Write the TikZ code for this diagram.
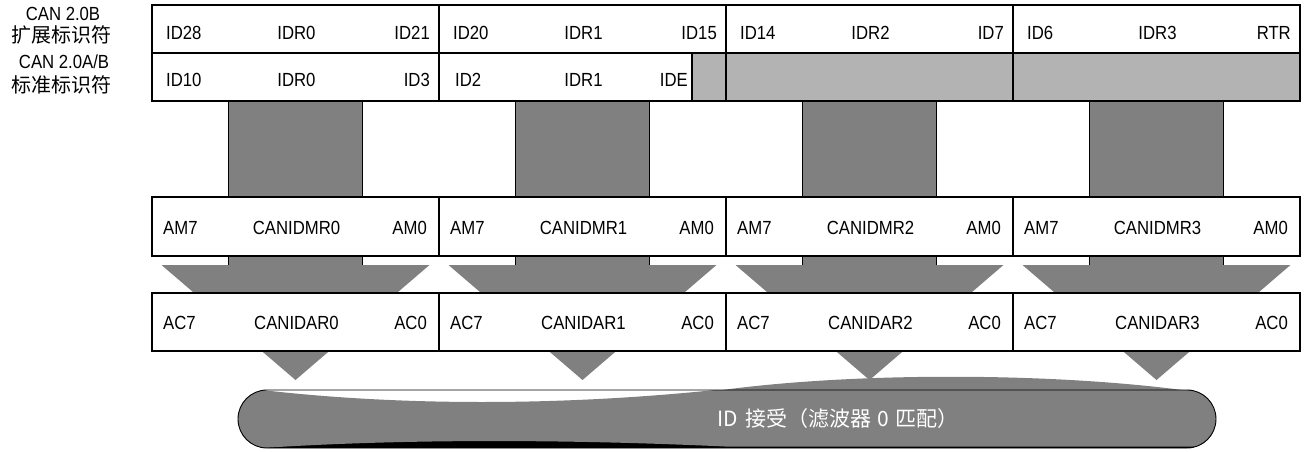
\documentclass[tikz,border=0pt]{standalone}
\usepackage{fontspec}
\setmainfont[FakeStretch=0.88]{Liberation Sans}
\newfontfamily\cjk{Noto Sans CJK SC}
\definecolor{darkg}{RGB}{128,128,128}
\definecolor{lightg}{RGB}{179,179,179}
\begin{document}
\begin{tikzpicture}[x=1pt,y=-1pt,
  lbl/.style={font=\fontsize{19}{20}\selectfont, inner sep=0pt},
  cjklbl/.style={font=\cjk\fontsize{20}{21}\selectfont, inner sep=0pt},
  cell/.style={draw, line width=1.9pt, fill=white, inner sep=0pt, minimum width=287pt},
  stemline/.style={line width=1.3pt},
  arrowfill/.style={fill=darkg}]
\useasboundingbox (0,0) rectangle (1307,452);

% ---- down arrows (drawn first, behind the register rows)
\foreach \i in {0,1,2,3} {
  \pgfmathsetmacro\cx{295.5+287*\i}
  \fill[arrowfill] (\cx-67,101) -- (\cx+67,101) -- (\cx+67,265) -- (\cx+134,265)
     -- (\cx,380) -- (\cx-134,265) -- (\cx-67,265) -- cycle;
  \draw[stemline] (\cx-67,101) -- (\cx-67,265) (\cx+67,101) -- (\cx+67,265);
}

% ---- top table: identifier registers
\foreach \i/\l/\c/\r in {0/ID28/IDR0/ID21, 1/ID20/IDR1/ID15, 2/ID14/IDR2/ID7, 3/ID6/IDR3/RTR} {
  \pgfmathsetmacro\cx{295.5+287*\i}
  \pgfmathsetmacro\xa{152+287*\i}
  \node[cell, minimum height=48pt] (ext\i) at (\cx,29) {};
  \node[lbl, anchor=west] (extL\i) at (\xa+14,33) {\l};
  \node[lbl] (extC\i) at (\cx+1,33) {\c};
  \node[lbl, anchor=east] (extR\i) at (\xa+278,33) {\r};
}
% row 2 (standard identifier)
\node[cell, minimum height=48pt] (std0) at (295.5,77) {};
\node[lbl, anchor=west] (stdL0) at (166,80) {ID10};
\node[lbl] (stdC0) at (296.5,80) {IDR0};
\node[lbl, anchor=east] (stdR0) at (430,80) {ID3};
\node[cell, minimum height=48pt] (std1) at (582.5,77) {};
\node[cell, fill=lightg, minimum width=36pt, minimum height=48pt] (std1g) at (710,77) {};
\node[lbl, anchor=west] (stdL1) at (455,80) {ID2};
\node[lbl] (stdC1) at (583.5,80) {IDR1};
\node[lbl, anchor=east] (stdR1) at (688,80) {IDE};
\node[cell, fill=lightg, minimum height=48pt] (std2) at (869.5,77) {};
\node[cell, fill=lightg, minimum height=48pt] (std3) at (1156.5,77) {};

% ---- mask and acceptance registers
\foreach \i in {0,1,2,3} {
  \pgfmathsetmacro\cx{295.5+287*\i}
  \pgfmathsetmacro\xa{152+287*\i}
  \node[cell, minimum height=59pt] (mr\i) at (\cx,226.5) {};
  \node[lbl, anchor=west] (mrL\i) at (\xa+11,228) {AM7};
  \node[lbl] (mrC\i) at (\cx+1,228) {CANIDMR\i};
  \node[lbl, anchor=east] (mrR\i) at (\xa+275,228) {AM0};
  \node[cell, minimum height=58pt] (ar\i) at (\cx,322) {};
  \node[lbl, anchor=west] (arL\i) at (\xa+11,323) {AC7};
  \node[lbl] (arC\i) at (\cx+1,323) {CANIDAR\i};
  \node[lbl, anchor=east] (arR\i) at (\xa+275,323) {AC0};
}

% ---- left labels
\node[lbl] (canb) at (63,14) {CAN 2.0B};
\node[cjklbl] (kuozhan) at (62,35) {扩展标识符};
\node[lbl] (canab) at (64,62) {CAN 2.0A/B};
\node[cjklbl] (biaozhun) at (62,85) {标准标识符};

% ---- acceptance capsule
\fill[darkg] (715,391) .. controls (850,372) and (1050,372) .. (1190,391) -- cycle;
\begin{scope}
  \clip[rounded corners=29pt] (238,390) rectangle (1216,448);
  \fill[black] (200,430) rectangle (1240,460);
  \fill[darkg] (220,370) -- (262,370) -- (262,390)
     .. controls (400,406) and (560,406) .. (715,390)
     -- (715,370) -- (1230,370) -- (1230,446.5) -- (725,446.5)
     .. controls (560,439) and (400,439) .. (262,448)
     -- (262,460) -- (220,460) -- cycle;
\end{scope}
\draw[line width=0.9pt, rounded corners=29pt] (238,390) rectangle (1216,448);
\node[font=\cjk\fontsize{21}{22}\selectfont, text=white, inner sep=0pt] (accept) at (838,419)
  {ID\hspace{0.35em}接受（滤波器\hspace{0.3em}0\hspace{0.3em}匹配）};
\end{tikzpicture}
\end{document}
